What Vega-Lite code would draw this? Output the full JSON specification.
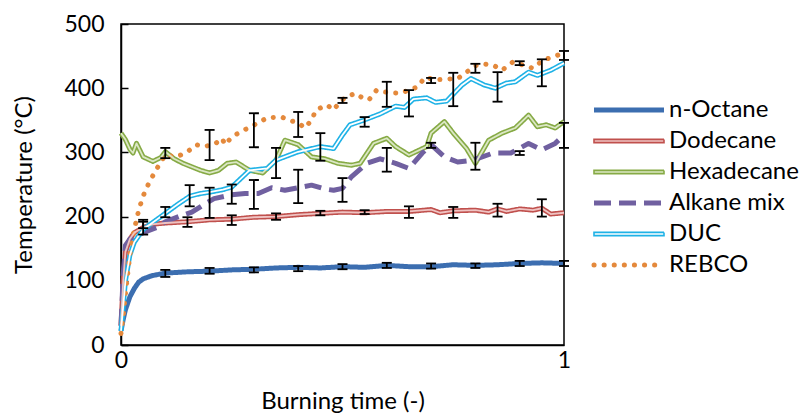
{
  "$schema": "https://vega.github.io/schema/vega-lite/v6.json",
  "width": 443,
  "height": 321,
  "autosize": {"type": "none"},
  "padding": {"left": 121, "top": 24, "right": 240, "bottom": 71},
  "background": "white",
  "config": {
    "font": "Lato",
    "view": {"stroke": "black", "strokeWidth": 1.5},
    "axis": {"grid": false, "domainColor": "black", "domainWidth": 1.5, "tickColor": "black", "tickWidth": 1.5, "labelColor": "black", "titleColor": "black", "labelFont": "Lato", "titleFont": "Lato", "labelFontSize": 23, "titleFontSize": 24, "titleFontWeight": "normal"}
  },
  "datasets": {
    "lines": [
      {"series": "n-Octane", "t": 0, "temp": 22}, {"series": "n-Octane", "t": 0.005, "temp": 40}, {"series": "n-Octane", "t": 0.01, "temp": 55}, {"series": "n-Octane", "t": 0.02, "temp": 75}, {"series": "n-Octane", "t": 0.03, "temp": 88}, {"series": "n-Octane", "t": 0.04, "temp": 98}, {"series": "n-Octane", "t": 0.05, "temp": 103}, {"series": "n-Octane", "t": 0.07, "temp": 108}, {"series": "n-Octane", "t": 0.1, "temp": 112}, {"series": "n-Octane", "t": 0.15, "temp": 114}, {"series": "n-Octane", "t": 0.2, "temp": 115}, {"series": "n-Octane", "t": 0.25, "temp": 117}, {"series": "n-Octane", "t": 0.3, "temp": 118}, {"series": "n-Octane", "t": 0.35, "temp": 120}, {"series": "n-Octane", "t": 0.4, "temp": 121}, {"series": "n-Octane", "t": 0.45, "temp": 120}, {"series": "n-Octane", "t": 0.5, "temp": 122}, {"series": "n-Octane", "t": 0.55, "temp": 121}, {"series": "n-Octane", "t": 0.6, "temp": 124}, {"series": "n-Octane", "t": 0.65, "temp": 122}, {"series": "n-Octane", "t": 0.7, "temp": 122}, {"series": "n-Octane", "t": 0.75, "temp": 125}, {"series": "n-Octane", "t": 0.8, "temp": 124}, {"series": "n-Octane", "t": 0.85, "temp": 125}, {"series": "n-Octane", "t": 0.9, "temp": 127}, {"series": "n-Octane", "t": 0.95, "temp": 128}, {"series": "n-Octane", "t": 1, "temp": 127},
      {"series": "Dodecane", "t": 0, "temp": 30}, {"series": "Dodecane", "t": 0.005, "temp": 100}, {"series": "Dodecane", "t": 0.01, "temp": 145}, {"series": "Dodecane", "t": 0.02, "temp": 165}, {"series": "Dodecane", "t": 0.03, "temp": 175}, {"series": "Dodecane", "t": 0.05, "temp": 183}, {"series": "Dodecane", "t": 0.07, "temp": 188}, {"series": "Dodecane", "t": 0.1, "temp": 190}, {"series": "Dodecane", "t": 0.15, "temp": 192}, {"series": "Dodecane", "t": 0.2, "temp": 195}, {"series": "Dodecane", "t": 0.25, "temp": 196}, {"series": "Dodecane", "t": 0.3, "temp": 199}, {"series": "Dodecane", "t": 0.35, "temp": 200}, {"series": "Dodecane", "t": 0.4, "temp": 203}, {"series": "Dodecane", "t": 0.45, "temp": 205}, {"series": "Dodecane", "t": 0.5, "temp": 207}, {"series": "Dodecane", "t": 0.55, "temp": 206}, {"series": "Dodecane", "t": 0.6, "temp": 208}, {"series": "Dodecane", "t": 0.65, "temp": 208}, {"series": "Dodecane", "t": 0.7, "temp": 211}, {"series": "Dodecane", "t": 0.72, "temp": 206}, {"series": "Dodecane", "t": 0.75, "temp": 209}, {"series": "Dodecane", "t": 0.8, "temp": 210}, {"series": "Dodecane", "t": 0.83, "temp": 207}, {"series": "Dodecane", "t": 0.85, "temp": 212}, {"series": "Dodecane", "t": 0.87, "temp": 208}, {"series": "Dodecane", "t": 0.9, "temp": 212}, {"series": "Dodecane", "t": 0.93, "temp": 210}, {"series": "Dodecane", "t": 0.95, "temp": 213}, {"series": "Dodecane", "t": 0.97, "temp": 204}, {"series": "Dodecane", "t": 1, "temp": 206},
      {"series": "Hexadecane", "t": 0, "temp": 330}, {"series": "Hexadecane", "t": 0.01, "temp": 320}, {"series": "Hexadecane", "t": 0.02, "temp": 305}, {"series": "Hexadecane", "t": 0.027, "temp": 299}, {"series": "Hexadecane", "t": 0.035, "temp": 314}, {"series": "Hexadecane", "t": 0.05, "temp": 293}, {"series": "Hexadecane", "t": 0.072, "temp": 286}, {"series": "Hexadecane", "t": 0.09, "temp": 292}, {"series": "Hexadecane", "t": 0.1, "temp": 301}, {"series": "Hexadecane", "t": 0.12, "temp": 290}, {"series": "Hexadecane", "t": 0.14, "temp": 283}, {"series": "Hexadecane", "t": 0.18, "temp": 272}, {"series": "Hexadecane", "t": 0.2, "temp": 268}, {"series": "Hexadecane", "t": 0.22, "temp": 272}, {"series": "Hexadecane", "t": 0.24, "temp": 283}, {"series": "Hexadecane", "t": 0.26, "temp": 285}, {"series": "Hexadecane", "t": 0.29, "temp": 272}, {"series": "Hexadecane", "t": 0.32, "temp": 268}, {"series": "Hexadecane", "t": 0.35, "temp": 288}, {"series": "Hexadecane", "t": 0.37, "temp": 319}, {"series": "Hexadecane", "t": 0.4, "temp": 312}, {"series": "Hexadecane", "t": 0.43, "temp": 293}, {"series": "Hexadecane", "t": 0.46, "temp": 290}, {"series": "Hexadecane", "t": 0.49, "temp": 283}, {"series": "Hexadecane", "t": 0.52, "temp": 280}, {"series": "Hexadecane", "t": 0.54, "temp": 283}, {"series": "Hexadecane", "t": 0.57, "temp": 314}, {"series": "Hexadecane", "t": 0.6, "temp": 322}, {"series": "Hexadecane", "t": 0.62, "temp": 309}, {"series": "Hexadecane", "t": 0.65, "temp": 296}, {"series": "Hexadecane", "t": 0.69, "temp": 309}, {"series": "Hexadecane", "t": 0.7, "temp": 330}, {"series": "Hexadecane", "t": 0.73, "temp": 348}, {"series": "Hexadecane", "t": 0.75, "temp": 330}, {"series": "Hexadecane", "t": 0.78, "temp": 306}, {"series": "Hexadecane", "t": 0.8, "temp": 283}, {"series": "Hexadecane", "t": 0.83, "temp": 319}, {"series": "Hexadecane", "t": 0.86, "temp": 330}, {"series": "Hexadecane", "t": 0.89, "temp": 338}, {"series": "Hexadecane", "t": 0.92, "temp": 358}, {"series": "Hexadecane", "t": 0.94, "temp": 340}, {"series": "Hexadecane", "t": 0.96, "temp": 343}, {"series": "Hexadecane", "t": 0.98, "temp": 338}, {"series": "Hexadecane", "t": 1, "temp": 348},
      {"series": "Alkane mix", "t": 0, "temp": 30}, {"series": "Alkane mix", "t": 0.005, "temp": 110}, {"series": "Alkane mix", "t": 0.01, "temp": 155}, {"series": "Alkane mix", "t": 0.02, "temp": 165}, {"series": "Alkane mix", "t": 0.03, "temp": 168}, {"series": "Alkane mix", "t": 0.05, "temp": 175}, {"series": "Alkane mix", "t": 0.08, "temp": 183}, {"series": "Alkane mix", "t": 0.1, "temp": 192}, {"series": "Alkane mix", "t": 0.13, "temp": 200}, {"series": "Alkane mix", "t": 0.16, "temp": 207}, {"series": "Alkane mix", "t": 0.19, "temp": 220}, {"series": "Alkane mix", "t": 0.21, "temp": 228}, {"series": "Alkane mix", "t": 0.25, "temp": 234}, {"series": "Alkane mix", "t": 0.28, "temp": 236}, {"series": "Alkane mix", "t": 0.31, "temp": 236}, {"series": "Alkane mix", "t": 0.34, "temp": 245}, {"series": "Alkane mix", "t": 0.37, "temp": 241}, {"series": "Alkane mix", "t": 0.4, "temp": 245}, {"series": "Alkane mix", "t": 0.43, "temp": 249}, {"series": "Alkane mix", "t": 0.46, "temp": 243}, {"series": "Alkane mix", "t": 0.48, "temp": 241}, {"series": "Alkane mix", "t": 0.5, "temp": 244}, {"series": "Alkane mix", "t": 0.52, "temp": 262}, {"series": "Alkane mix", "t": 0.555, "temp": 283}, {"series": "Alkane mix", "t": 0.585, "temp": 290}, {"series": "Alkane mix", "t": 0.62, "temp": 283}, {"series": "Alkane mix", "t": 0.65, "temp": 275}, {"series": "Alkane mix", "t": 0.68, "temp": 299}, {"series": "Alkane mix", "t": 0.7, "temp": 312}, {"series": "Alkane mix", "t": 0.73, "temp": 293}, {"series": "Alkane mix", "t": 0.76, "temp": 285}, {"series": "Alkane mix", "t": 0.795, "temp": 288}, {"series": "Alkane mix", "t": 0.84, "temp": 299}, {"series": "Alkane mix", "t": 0.88, "temp": 299}, {"series": "Alkane mix", "t": 0.92, "temp": 314}, {"series": "Alkane mix", "t": 0.95, "temp": 304}, {"series": "Alkane mix", "t": 0.98, "temp": 314}, {"series": "Alkane mix", "t": 1, "temp": 327},
      {"series": "DUC", "t": 0, "temp": 22}, {"series": "DUC", "t": 0.005, "temp": 60}, {"series": "DUC", "t": 0.01, "temp": 100}, {"series": "DUC", "t": 0.02, "temp": 140}, {"series": "DUC", "t": 0.03, "temp": 160}, {"series": "DUC", "t": 0.05, "temp": 180}, {"series": "DUC", "t": 0.07, "temp": 190}, {"series": "DUC", "t": 0.1, "temp": 205}, {"series": "DUC", "t": 0.13, "temp": 220}, {"series": "DUC", "t": 0.156, "temp": 232}, {"series": "DUC", "t": 0.18, "temp": 236}, {"series": "DUC", "t": 0.2, "temp": 238}, {"series": "DUC", "t": 0.23, "temp": 242}, {"series": "DUC", "t": 0.25, "temp": 246}, {"series": "DUC", "t": 0.29, "temp": 272}, {"series": "DUC", "t": 0.33, "temp": 275}, {"series": "DUC", "t": 0.35, "temp": 288}, {"series": "DUC", "t": 0.4, "temp": 301}, {"series": "DUC", "t": 0.45, "temp": 309}, {"series": "DUC", "t": 0.48, "temp": 306}, {"series": "DUC", "t": 0.5, "temp": 327}, {"series": "DUC", "t": 0.517, "temp": 343}, {"series": "DUC", "t": 0.547, "temp": 350}, {"series": "DUC", "t": 0.585, "temp": 360}, {"series": "DUC", "t": 0.62, "temp": 372}, {"series": "DUC", "t": 0.64, "temp": 370}, {"series": "DUC", "t": 0.66, "temp": 383}, {"series": "DUC", "t": 0.69, "temp": 385}, {"series": "DUC", "t": 0.71, "temp": 378}, {"series": "DUC", "t": 0.735, "temp": 380}, {"series": "DUC", "t": 0.77, "temp": 405}, {"series": "DUC", "t": 0.79, "temp": 415}, {"series": "DUC", "t": 0.82, "temp": 405}, {"series": "DUC", "t": 0.845, "temp": 400}, {"series": "DUC", "t": 0.87, "temp": 408}, {"series": "DUC", "t": 0.89, "temp": 410}, {"series": "DUC", "t": 0.92, "temp": 425}, {"series": "DUC", "t": 0.94, "temp": 420}, {"series": "DUC", "t": 0.97, "temp": 428}, {"series": "DUC", "t": 1, "temp": 439},
      {"series": "REBCO", "t": 0, "temp": 18}, {"series": "REBCO", "t": 0.005, "temp": 45}, {"series": "REBCO", "t": 0.01, "temp": 80}, {"series": "REBCO", "t": 0.015, "temp": 110}, {"series": "REBCO", "t": 0.02, "temp": 140}, {"series": "REBCO", "t": 0.03, "temp": 180}, {"series": "REBCO", "t": 0.04, "temp": 210}, {"series": "REBCO", "t": 0.05, "temp": 232}, {"series": "REBCO", "t": 0.058, "temp": 245}, {"series": "REBCO", "t": 0.065, "temp": 255}, {"series": "REBCO", "t": 0.077, "temp": 270}, {"series": "REBCO", "t": 0.088, "temp": 283}, {"series": "REBCO", "t": 0.1, "temp": 296}, {"series": "REBCO", "t": 0.126, "temp": 293}, {"series": "REBCO", "t": 0.15, "temp": 301}, {"series": "REBCO", "t": 0.17, "temp": 312}, {"series": "REBCO", "t": 0.185, "temp": 309}, {"series": "REBCO", "t": 0.21, "temp": 312}, {"series": "REBCO", "t": 0.228, "temp": 322}, {"series": "REBCO", "t": 0.235, "temp": 312}, {"series": "REBCO", "t": 0.25, "temp": 324}, {"series": "REBCO", "t": 0.27, "temp": 332}, {"series": "REBCO", "t": 0.31, "temp": 346}, {"series": "REBCO", "t": 0.33, "temp": 354}, {"series": "REBCO", "t": 0.363, "temp": 355}, {"series": "REBCO", "t": 0.38, "temp": 350}, {"series": "REBCO", "t": 0.4, "temp": 346}, {"series": "REBCO", "t": 0.415, "temp": 338}, {"series": "REBCO", "t": 0.43, "temp": 350}, {"series": "REBCO", "t": 0.44, "temp": 366}, {"series": "REBCO", "t": 0.465, "temp": 374}, {"series": "REBCO", "t": 0.48, "temp": 366}, {"series": "REBCO", "t": 0.494, "temp": 379}, {"series": "REBCO", "t": 0.51, "temp": 387}, {"series": "REBCO", "t": 0.53, "temp": 392}, {"series": "REBCO", "t": 0.547, "temp": 384}, {"series": "REBCO", "t": 0.56, "temp": 382}, {"series": "REBCO", "t": 0.577, "temp": 397}, {"series": "REBCO", "t": 0.596, "temp": 394}, {"series": "REBCO", "t": 0.63, "temp": 392}, {"series": "REBCO", "t": 0.65, "temp": 397}, {"series": "REBCO", "t": 0.67, "temp": 402}, {"series": "REBCO", "t": 0.686, "temp": 417}, {"series": "REBCO", "t": 0.71, "temp": 413}, {"series": "REBCO", "t": 0.73, "temp": 414}, {"series": "REBCO", "t": 0.76, "temp": 415}, {"series": "REBCO", "t": 0.78, "temp": 425}, {"series": "REBCO", "t": 0.8, "temp": 435}, {"series": "REBCO", "t": 0.817, "temp": 438}, {"series": "REBCO", "t": 0.84, "temp": 436}, {"series": "REBCO", "t": 0.86, "temp": 428}, {"series": "REBCO", "t": 0.885, "temp": 441}, {"series": "REBCO", "t": 0.907, "temp": 436}, {"series": "REBCO", "t": 0.93, "temp": 431}, {"series": "REBCO", "t": 0.953, "temp": 444}, {"series": "REBCO", "t": 0.968, "temp": 447}, {"series": "REBCO", "t": 1, "temp": 455}
    ],
    "bars": [
      {"series": "n-Octane", "t": 0.1, "lo": 106, "hi": 117}, {"series": "n-Octane", "t": 0.2, "lo": 111, "hi": 120}, {"series": "n-Octane", "t": 0.3, "lo": 113, "hi": 121}, {"series": "n-Octane", "t": 0.4, "lo": 115, "hi": 123}, {"series": "n-Octane", "t": 0.5, "lo": 118, "hi": 126}, {"series": "n-Octane", "t": 0.6, "lo": 120, "hi": 128}, {"series": "n-Octane", "t": 0.7, "lo": 119, "hi": 127}, {"series": "n-Octane", "t": 0.8, "lo": 120, "hi": 127}, {"series": "n-Octane", "t": 0.9, "lo": 123, "hi": 131}, {"series": "n-Octane", "t": 1, "lo": 123, "hi": 131},
      {"series": "Dodecane", "t": 0.05, "lo": 182, "hi": 192}, {"series": "Dodecane", "t": 0.15, "lo": 184, "hi": 199}, {"series": "Dodecane", "t": 0.25, "lo": 187, "hi": 202}, {"series": "Dodecane", "t": 0.35, "lo": 195, "hi": 205}, {"series": "Dodecane", "t": 0.45, "lo": 202, "hi": 209}, {"series": "Dodecane", "t": 0.55, "lo": 204, "hi": 210}, {"series": "Dodecane", "t": 0.65, "lo": 198, "hi": 216}, {"series": "Dodecane", "t": 0.75, "lo": 198, "hi": 215}, {"series": "Dodecane", "t": 0.85, "lo": 200, "hi": 220}, {"series": "Dodecane", "t": 0.95, "lo": 200, "hi": 227},
      {"series": "Hexadecane", "t": 0.1, "lo": 291, "hi": 307},
      {"series": "Alkane mix", "t": 0.1, "lo": 199, "hi": 215}, {"series": "Alkane mix", "t": 0.2, "lo": 198, "hi": 245}, {"series": "Alkane mix", "t": 0.3, "lo": 212, "hi": 257}, {"series": "Alkane mix", "t": 0.4, "lo": 221, "hi": 273}, {"series": "Alkane mix", "t": 0.5, "lo": 223, "hi": 260}, {"series": "Alkane mix", "t": 0.6, "lo": 270, "hi": 307}, {"series": "Alkane mix", "t": 0.7, "lo": 307, "hi": 315}, {"series": "Alkane mix", "t": 0.8, "lo": 273, "hi": 315}, {"series": "Alkane mix", "t": 0.9, "lo": 296, "hi": 302}, {"series": "Alkane mix", "t": 1, "lo": 307, "hi": 346},
      {"series": "DUC", "t": 0.05, "lo": 172, "hi": 195}, {"series": "DUC", "t": 0.155, "lo": 216, "hi": 249}, {"series": "DUC", "t": 0.25, "lo": 220, "hi": 250}, {"series": "DUC", "t": 0.35, "lo": 260, "hi": 307}, {"series": "DUC", "t": 0.45, "lo": 287, "hi": 330}, {"series": "DUC", "t": 0.55, "lo": 340, "hi": 355}, {"series": "DUC", "t": 0.65, "lo": 356, "hi": 397}, {"series": "DUC", "t": 0.75, "lo": 372, "hi": 424}, {"series": "DUC", "t": 0.85, "lo": 379, "hi": 425}, {"series": "DUC", "t": 0.95, "lo": 403, "hi": 445},
      {"series": "REBCO", "t": 0.2, "lo": 288, "hi": 335}, {"series": "REBCO", "t": 0.3, "lo": 308, "hi": 361}, {"series": "REBCO", "t": 0.4, "lo": 324, "hi": 363}, {"series": "REBCO", "t": 0.5, "lo": 377, "hi": 385}, {"series": "REBCO", "t": 0.6, "lo": 371, "hi": 410}, {"series": "REBCO", "t": 0.7, "lo": 408, "hi": 416}, {"series": "REBCO", "t": 0.8, "lo": 424, "hi": 438}, {"series": "REBCO", "t": 0.9, "lo": 436, "hi": 442}, {"series": "REBCO", "t": 1, "lo": 444, "hi": 458}
    ]
  },
  "layer": [
    {
      "data": {"name": "lines"},
      "encoding": {
        "x": {"field": "t", "type": "quantitative", "scale": {"domain": [0, 1], "nice": false, "zero": false}, "axis": {"values": [0, 1], "format": "d", "ticks": false, "title": "Burning time (-)", "labelPadding": 4, "titlePadding": 17, "labelFlush": false}},
        "y": {"field": "temp", "type": "quantitative", "scale": {"domain": [0, 500], "nice": false}, "axis": {"values": [0, 100, 200, 300, 400, 500], "tickSize": -7, "labelPadding": 24, "title": "Temperature (°C)", "titlePadding": 27}},
        "color": {"field": "series", "type": "nominal", "scale": {"domain": ["n-Octane", "Dodecane", "Hexadecane", "Alkane mix", "DUC", "REBCO"], "range": ["#3c6eb0", "#c0504d", "#86aa45", "#7060a0", "#1fb2e6", "#e4893c"]},
          "legend": {"title": null, "orient": "none", "legendX": 496, "legendY": 74, "padding": 0, "symbolType": "M-3.5,0H3.5", "symbolSize": 400, "symbolStrokeWidth": 5, "labelFontSize": 24, "labelFont": "Lato", "labelColor": "black", "labelOffset": 28, "rowPadding": 7,
            "encode": {"symbols": {"update": {
              "strokeCap": {"signal": "datum.value === 'REBCO' ? 'round' : 'butt'"},
              "shape": {"signal": "indexof(['Dodecane','Hexadecane','DUC'], datum.value) >= 0 ? 'M-3.5,-0.16H3.5V0.16H-3.5Z' : 'M-3.5,0H3.5'"},
              "fill": {"signal": "datum.value === 'Dodecane' ? '#efc3c2' : datum.value === 'Hexadecane' ? '#dbe7c4' : datum.value === 'DUC' ? '#ffffff' : 'transparent'"},
              "strokeWidth": {"signal": "indexof(['Dodecane','Hexadecane','DUC'], datum.value) >= 0 ? 1.6 : 5"}
            }}}}},
        "strokeDash": {"field": "series", "type": "nominal", "scale": {"domain": ["n-Octane", "Dodecane", "Hexadecane", "Alkane mix", "DUC", "REBCO"], "range": [[1, 0], [1, 0], [1, 0], [17, 8], [1, 0], [0.1, 10]]},
          "legend": {"title": null, "orient": "none", "legendX": 496, "legendY": 74, "padding": 0, "symbolType": "M-3.5,0H3.5", "symbolSize": 400, "symbolStrokeWidth": 5, "labelFontSize": 24, "labelFont": "Lato", "labelColor": "black", "labelOffset": 28, "rowPadding": 7,
            "encode": {"symbols": {"update": {
              "strokeCap": {"signal": "datum.value === 'REBCO' ? 'round' : 'butt'"},
              "shape": {"signal": "indexof(['Dodecane','Hexadecane','DUC'], datum.value) >= 0 ? 'M-3.5,-0.16H3.5V0.16H-3.5Z' : 'M-3.5,0H3.5'"},
              "fill": {"signal": "datum.value === 'Dodecane' ? '#efc3c2' : datum.value === 'Hexadecane' ? '#dbe7c4' : datum.value === 'DUC' ? '#ffffff' : 'transparent'"},
              "strokeWidth": {"signal": "indexof(['Dodecane','Hexadecane','DUC'], datum.value) >= 0 ? 1.6 : 5"}
            }}}}}
      },
      "layer": [
        {"transform": [{"filter": "datum.series !== 'REBCO'"}], "mark": {"type": "line", "strokeWidth": 5, "strokeCap": "butt", "strokeJoin": "round"}},
        {"transform": [{"filter": "datum.series === 'REBCO'"}], "mark": {"type": "line", "strokeWidth": 5, "strokeCap": "round"}}
      ]
    },
    {
      "data": {"name": "lines"},
      "transform": [{"filter": {"field": "series", "oneOf": ["Dodecane", "Hexadecane", "DUC"]}}],
      "mark": {"type": "line", "strokeWidth": 1.8, "strokeJoin": "round"},
      "encoding": {
        "x": {"field": "t", "type": "quantitative"},
        "y": {"field": "temp", "type": "quantitative"},
        "color": {"field": "series", "type": "nominal", "scale": {"domain": ["n-Octane", "Dodecane", "Hexadecane", "Alkane mix", "DUC", "REBCO"], "range": ["transparent", "#efc3c2", "#dbe7c4", "transparent", "#ffffff", "transparent"]}, "legend": null}
      }
    },
    {
      "data": {"name": "bars"},
      "layer": [
        {"mark": {"type": "rule", "color": "black", "strokeWidth": 1.8}, "encoding": {"x": {"field": "t", "type": "quantitative"}, "y": {"field": "lo", "type": "quantitative"}, "y2": {"field": "hi"}}},
        {"mark": {"type": "tick", "orient": "horizontal", "color": "black", "size": 10, "thickness": 1.8, "opacity": 1}, "encoding": {"x": {"field": "t", "type": "quantitative"}, "y": {"field": "lo", "type": "quantitative"}}},
        {"mark": {"type": "tick", "orient": "horizontal", "color": "black", "size": 10, "thickness": 1.8, "opacity": 1}, "encoding": {"x": {"field": "t", "type": "quantitative"}, "y": {"field": "hi", "type": "quantitative"}}}
      ]
    }
  ],
  "resolve": {"scale": {"color": "independent", "strokeDash": "independent"}, "legend": {"color": "independent", "strokeDash": "independent"}}
}
